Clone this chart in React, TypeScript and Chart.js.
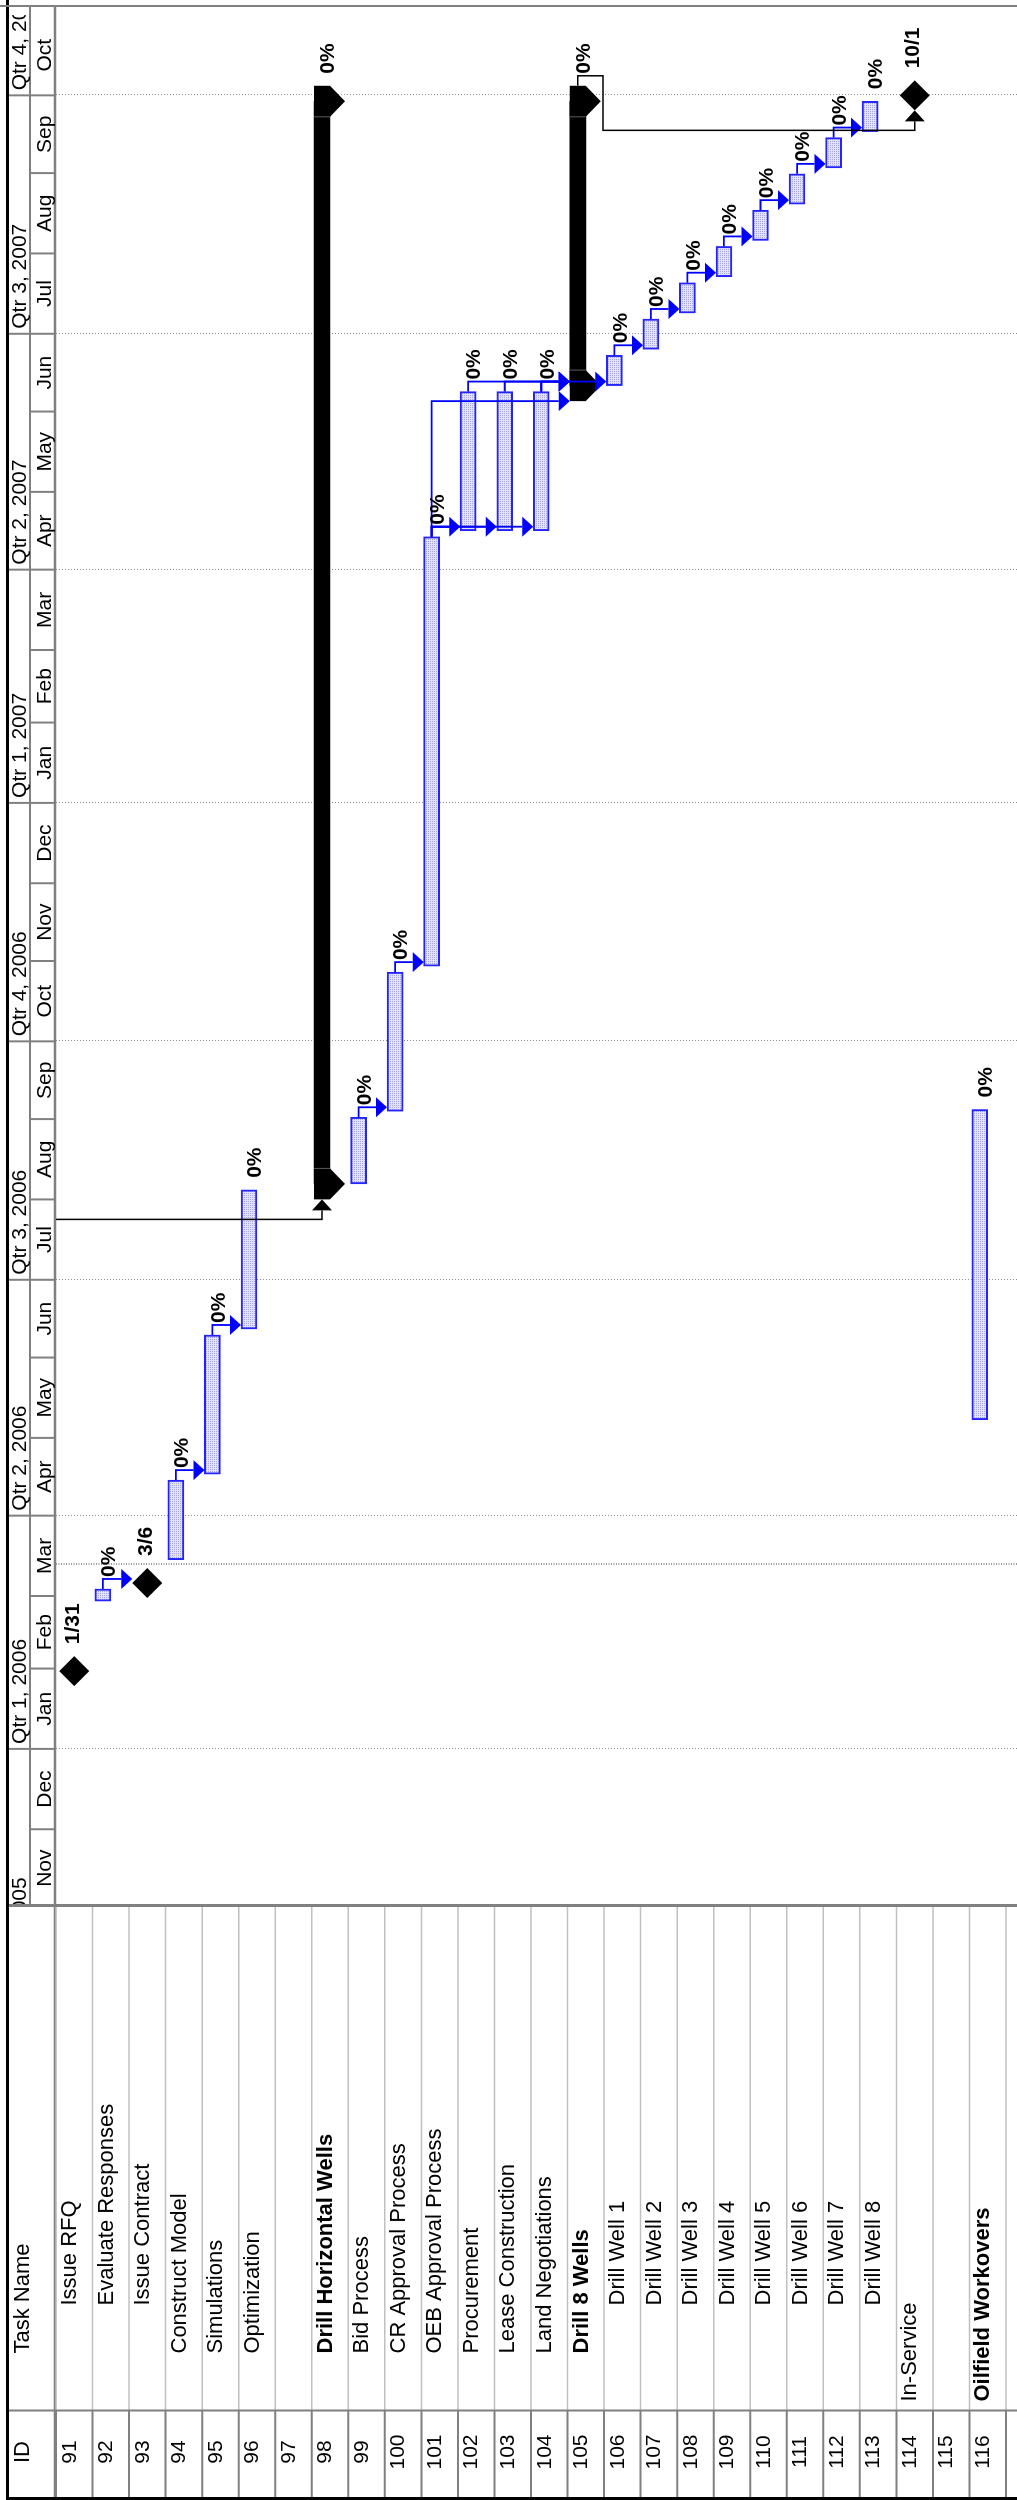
import React, { useEffect, useRef } from 'react';
import { Chart, registerables } from 'chart.js';

Chart.register(...registerables);

// ---------- schedule ----------
const taskIds = ['91', '92', '93', '94', '95', '96', '97', '98', '99', '100', '101', '102', '103', '104', '105', '106', '107', '108', '109', '110', '111', '112', '113', '114', '115', '116'];
const taskNames = ['Issue RFQ', 'Evaluate Responses', 'Issue Contract', 'Construct Model', 'Simulations', 'Optimization', '', 'Drill Horizontal Wells', 'Bid Process', 'CR Approval Process', 'OEB Approval Process', 'Procurement', 'Lease Construction', 'Land Negotiations', 'Drill 8 Wells', 'Drill Well 1', 'Drill Well 2', 'Drill Well 3', 'Drill Well 4', 'Drill Well 5', 'Drill Well 6', 'Drill Well 7', 'Drill Well 8', 'In-Service', '', 'Oilfield Workovers'];
const outlineLevels = [3, 3, 3, 2, 2, 2, 2, 2, 2, 2, 2, 2, 2, 2, 2, 3, 3, 3, 3, 3, 3, 3, 3, 1, 1, 1];
const boldRows = ['98', '105', '116'];
const taskKinds = ['milestone', 'task', 'milestone', 'task', 'task', 'task', 'blank', 'summary', 'task', 'task', 'task', 'task', 'task', 'task', 'summary', 'task', 'task', 'task', 'task', 'task', 'task', 'task', 'task', 'milestone', 'blank', 'task'];
const startDates = ['2006-01-31', '2006-02-27', '2006-03-06', '2006-03-15', '2006-04-17', '2006-06-12', null, '2006-08-07', '2006-08-07', '2006-09-04', '2006-10-30', '2007-04-16', '2007-04-16', '2007-04-16', '2007-06-11', '2007-06-11', '2007-06-25', '2007-07-09', '2007-07-23', '2007-08-06', '2007-08-20', '2007-09-03', '2007-09-17', '2007-10-01', null, '2006-05-08'];
const finishDates = ['2006-01-31', '2006-03-03', '2006-03-06', '2006-04-14', '2006-06-09', '2006-08-04', null, '2007-09-28', '2006-09-01', '2006-10-27', '2007-04-13', '2007-06-08', '2007-06-08', '2007-06-08', '2007-09-28', '2007-06-22', '2007-07-06', '2007-07-20', '2007-08-03', '2007-08-17', '2007-08-31', '2007-09-14', '2007-09-28', '2007-10-01', null, '2006-09-04'];
const percentComplete = [null, 0, null, 0, 0, 0, null, 0, 0, 0, 0, 0, 0, 0, 0, 0, 0, 0, 0, 0, 0, 0, 0, null, null, 0];

// finish-to-start dependencies ('90' sits above the visible rows)
const linkPredecessors = ['90', '92', '94', '95', '99', '100', '101', '101', '101', '101', '102', '103', '104', '104', '106', '107', '108', '109', '110', '111', '112', '105'];
const linkSuccessors = ['98', '93', '95', '96', '100', '101', '102', '103', '104', '105', '105', '105', '105', '106', '107', '108', '109', '110', '111', '112', '113', '114'];

// ---------- timescale ----------
const VIEW_START = '2005-11-01';
const VIEW_END = '2007-11-01';
const STATUS_DATE = '2006-03-13T08:00';
const quarterStarts = ['2005-10-01', '2006-01-01', '2006-04-01', '2006-07-01', '2006-10-01', '2007-01-01', '2007-04-01', '2007-07-01', '2007-10-01'];
const quarterLabels = ['Qtr 4, 2005', 'Qtr 1, 2006', 'Qtr 2, 2006', 'Qtr 3, 2006', 'Qtr 4, 2006', 'Qtr 1, 2007', 'Qtr 2, 2007', 'Qtr 3, 2007', 'Qtr 4, 2007'];
const monthStarts = ['2005-11-01', '2005-12-01', '2006-01-01', '2006-02-01', '2006-03-01', '2006-04-01', '2006-05-01', '2006-06-01', '2006-07-01', '2006-08-01', '2006-09-01', '2006-10-01', '2006-11-01', '2006-12-01', '2007-01-01', '2007-02-01', '2007-03-01', '2007-04-01', '2007-05-01', '2007-06-01', '2007-07-01', '2007-08-01', '2007-09-01', '2007-10-01'];
const monthLabels = ['Nov', 'Dec', 'Jan', 'Feb', 'Mar', 'Apr', 'May', 'Jun', 'Jul', 'Aug', 'Sep', 'Oct', 'Nov', 'Dec', 'Jan', 'Feb', 'Mar', 'Apr', 'May', 'Jun', 'Jul', 'Aug', 'Sep', 'Oct'];

// ---------- sheet layout (drawn landscape, page turned a quarter) ----------
const CANVAS_W = 2500;
const CANVAS_H = 1021;
const PAGE_W = 1017;
const TABLE_W = 593;
const ID_W = 89.5;
const HEADER_H = 56;
const RIGHT_EDGE = 2494;
const FRAME_TOP = 9;
const TIER_Y = 30;
const HEADER_LINE = 55;
const FONT = '"Liberation Sans", Arial, Helvetica, sans-serif';
const GRID = '#808080';
const LIGHT_GRID = '#c0c0c0';
const BLUE = '#0000ff';
const BAR_EDGE = '#2424ff';
const FINISH_HOUR = 17;
const MILESTONE_R = 15;
const CAP_HALF = 15.5;
const CAP_DROP = 15;
const ARROW_LEN = 11;
const ARROW_HALF = 10;
const INDENT = 48;

const EPOCH = Date.UTC(2006, 0, 1);
function dayOf(s: string, hour = 0): number {
  const [datePart, timePart] = s.split('T');
  const [y, m, d] = datePart.split('-').map(Number);
  let h = hour;
  if (timePart) {
    const [hh, mm] = timePart.split(':').map(Number);
    h = hh + mm / 60;
  }
  return (Date.UTC(y, m - 1, d) - EPOCH) / 86400000 + h / 24;
}
function shortDate(s: string): string {
  const [, m, d] = s.split('-').map(Number);
  return `${m}/${d}`;
}

function makeHatch(): CanvasPattern | string {
  const c = document.createElement('canvas');
  c.width = 2;
  c.height = 2;
  const g = c.getContext('2d');
  if (!g) return '#d4d4f6';
  g.fillStyle = '#e2e2ff';
  g.fillRect(0, 0, 2, 2);
  g.fillStyle = '#a6a6da';
  g.fillRect(0, 0, 1, 1);
  return g.createPattern(c, 'repeat') || '#d4d4f6';
}

function seg(ctx: CanvasRenderingContext2D, pts: number[][]) {
  ctx.beginPath();
  ctx.moveTo(pts[0][0], pts[0][1]);
  for (let i = 1; i < pts.length; i++) ctx.lineTo(pts[i][0], pts[i][1]);
  ctx.stroke();
}

function drawSheet(chart: any) {
  const ctx: CanvasRenderingContext2D = chart.ctx;
  const xs = chart.scales.x;
  const ys = chart.scales.y;
  const ca = chart.chartArea;
  const H = chart.height;
  const n = taskIds.length;
  const rowH = (ca.bottom - ca.top) / n;
  ctx.save();

  // quarter gridlines across the plot
  ctx.strokeStyle = '#8c8c8c';
  ctx.lineWidth = 1;
  ctx.setLineDash([1, 2]);
  for (const q of quarterStarts) {
    const u = Math.round(xs.getPixelForValue(dayOf(q))) + 0.5;
    if (u <= ca.left + 1 || u >= RIGHT_EDGE) continue;
    seg(ctx, [[u, ca.top], [u, H]]);
  }
  // status date line
  ctx.setLineDash([1, 1.5]);
  ctx.lineWidth = 2;
  ctx.strokeStyle = '#9a9a9a';
  const us = Math.round(xs.getPixelForValue(dayOf(STATUS_DATE)));
  seg(ctx, [[us, ca.top], [us, H]]);
  ctx.setLineDash([]);

  // timescale tiers
  ctx.strokeStyle = GRID;
  ctx.lineWidth = 2;
  seg(ctx, [[ca.left, TIER_Y], [RIGHT_EDGE, TIER_Y]]);
  for (const q of quarterStarts) {
    const u = xs.getPixelForValue(dayOf(q));
    if (u <= ca.left || u >= RIGHT_EDGE) continue;
    seg(ctx, [[u, FRAME_TOP], [u, TIER_Y]]);
  }
  for (const m of monthStarts) {
    const u = xs.getPixelForValue(dayOf(m));
    if (u <= ca.left || u >= RIGHT_EDGE) continue;
    seg(ctx, [[u, TIER_Y], [u, HEADER_LINE]]);
  }
  ctx.lineWidth = 2.5;
  seg(ctx, [[0, HEADER_LINE], [RIGHT_EDGE, HEADER_LINE]]);

  ctx.fillStyle = '#000';
  ctx.font = `21px ${FONT}`;
  ctx.textBaseline = 'alphabetic';
  // quarter tier text, clipped to the visible cells
  ctx.save();
  ctx.beginPath();
  ctx.rect(ca.left + 2, FRAME_TOP, RIGHT_EDGE - 9 - ca.left - 2, TIER_Y - FRAME_TOP);
  ctx.clip();
  ctx.textAlign = 'left';
  quarterStarts.forEach((q, i) => {
    const u = xs.getPixelForValue(dayOf(q));
    ctx.fillText(quarterLabels[i], u + 5, 25.5);
  });
  ctx.restore();
  // month tier text
  ctx.save();
  ctx.beginPath();
  ctx.rect(ca.left + 2, TIER_Y, RIGHT_EDGE - 4 - ca.left - 2, HEADER_LINE - TIER_Y);
  ctx.clip();
  ctx.textAlign = 'center';
  monthStarts.forEach((m, i) => {
    const u0 = xs.getPixelForValue(dayOf(m));
    const u1 = xs.getPixelForValue(dayOf(i + 1 < monthStarts.length ? monthStarts[i + 1] : VIEW_END));
    ctx.fillText(monthLabels[i], (u0 + u1) / 2, 50.5);
  });
  ctx.restore();

  // task table rows
  for (let k = 0; k <= n; k++) {
    const v = ca.top + k * rowH;
    ctx.strokeStyle = LIGHT_GRID;
    ctx.lineWidth = 1.5;
    seg(ctx, [[ID_W, v], [TABLE_W, v]]);
    ctx.strokeStyle = GRID;
    ctx.lineWidth = 2;
    seg(ctx, [[0, v], [ID_W, v]]);
  }
  ctx.strokeStyle = GRID;
  ctx.lineWidth = 2;
  seg(ctx, [[ID_W, FRAME_TOP], [ID_W, H]]);
  ctx.lineWidth = 3;
  seg(ctx, [[TABLE_W + 1.5, FRAME_TOP], [TABLE_W + 1.5, H]]);

  ctx.fillStyle = '#000';
  ctx.textBaseline = 'alphabetic';
  ctx.font = `22px ${FONT}`;
  ctx.textAlign = 'center';
  ctx.fillText('ID', 48, 28.5);
  ctx.textAlign = 'left';
  ctx.fillText('Task Name', ID_W + 9 + INDENT, 28.5);
  taskIds.forEach((id, i) => {
    const top = ys.getPixelForValue(i) - rowH / 2;
    ctx.font = `21px ${FONT}`;
    ctx.textAlign = 'center';
    ctx.fillText(id, 48, top + 19.5);
    if (taskNames[i]) {
      ctx.textAlign = 'left';
      ctx.font = `${boldRows.includes(id) ? 'bold ' : ''}22px ${FONT}`;
      ctx.fillText(taskNames[i], ID_W + 9 + (outlineLevels[i] - 1) * INDENT, top + 20);
    }
  });

  // page frame
  ctx.strokeStyle = '#000';
  ctx.lineWidth = 3;
  seg(ctx, [[0, FRAME_TOP - 1.5], [CANVAS_W, FRAME_TOP - 1.5]]);
  seg(ctx, [[1.5, FRAME_TOP - 3], [1.5, H]]);
  ctx.strokeStyle = GRID;
  ctx.lineWidth = 2;
  seg(ctx, [[RIGHT_EDGE, 0], [RIGHT_EDGE, H]]);
  ctx.restore();
}

function drawOverlays(chart: any) {
  const ctx: CanvasRenderingContext2D = chart.ctx;
  const xs = chart.scales.x;
  const ys = chart.scales.y;
  const ca = chart.chartArea;
  const rowH = (ca.bottom - ca.top) / taskIds.length;
  const bars = chart.getDatasetMeta(0).data;

  const geo = taskIds.map((id, i) => {
    const kind = taskKinds[i];
    const top = ys.getPixelForValue(i) - rowH / 2;
    if (kind === 'blank') return null;
    if (kind === 'milestone') {
      const u = xs.getPixelForValue(dayOf(startDates[i] as string));
      const v = ys.getPixelForValue(i);
      return { kind, top, bottom: top + rowH, uStart: u - MILESTONE_R, uEnd: u + MILESTONE_R, vTop: v - MILESTONE_R, vMid: v, uMid: u, barStart: u, barEnd: u, barBottom: v };
    }
    const p = bars[i].getProps(['x', 'y', 'base', 'height'], true);
    const s = Math.min(p.x, p.base);
    const e = Math.max(p.x, p.base);
    const cap = kind === 'summary' ? CAP_HALF : 0;
    return { kind, top, bottom: top + rowH, uStart: s - cap, uEnd: e + cap, vTop: p.y - p.height / 2, vMid: p.y, uMid: (s + e) / 2, barStart: s, barEnd: e, barBottom: p.y + p.height / 2 };
  });

  ctx.save();
  // summary end shapes
  geo.forEach((g) => {
    if (!g || g.kind !== 'summary') return;
    [g.barStart, g.barEnd].forEach((uc, k) => {
      ctx.fillStyle = '#000';
      ctx.beginPath();
      ctx.moveTo(uc - CAP_HALF, g.vTop);
      ctx.lineTo(uc + CAP_HALF, g.vTop);
      ctx.lineTo(uc + CAP_HALF, g.barBottom);
      ctx.lineTo(uc, g.barBottom + CAP_DROP);
      ctx.lineTo(uc - CAP_HALF, g.barBottom);
      ctx.closePath();
      ctx.fill();
      ctx.strokeStyle = '#5c5c5c';
      ctx.lineWidth = 1;
      const inner = k === 0 ? uc + CAP_HALF : uc - CAP_HALF;
      seg(ctx, [[inner, g.vTop], [inner, g.barBottom]]);
    });
  });

  // dependency links
  const arrowDown = (u: number, vTip: number) => {
    ctx.beginPath();
    ctx.moveTo(u - ARROW_HALF, vTip - ARROW_LEN);
    ctx.lineTo(u + ARROW_HALF, vTip - ARROW_LEN);
    ctx.lineTo(u, vTip);
    ctx.closePath();
    ctx.fill();
  };
  const arrowRight = (uTip: number, v: number) => {
    ctx.beginPath();
    ctx.moveTo(uTip - ARROW_LEN, v - ARROW_HALF);
    ctx.lineTo(uTip - ARROW_LEN, v + ARROW_HALF);
    ctx.lineTo(uTip, v);
    ctx.closePath();
    ctx.fill();
  };
  linkPredecessors.forEach((pid, li) => {
    const pi = taskIds.indexOf(pid);
    const si = taskIds.indexOf(linkSuccessors[li]);
    const to = geo[si];
    if (!to) return;
    const from = pi >= 0 ? geo[pi] : null;
    const color = from && from.kind === 'task' ? BLUE : '#000';
    ctx.strokeStyle = color;
    ctx.fillStyle = color;
    ctx.lineWidth = color === BLUE ? 1.8 : 1.5;
    if (!from) {
      const back = to.uStart - 20;
      seg(ctx, [[back, ca.top], [back, to.vMid], [to.uStart - ARROW_LEN, to.vMid]]);
      arrowRight(to.uStart, to.vMid);
      return;
    }
    const turn = Math.max(from.uEnd + 10, to.uStart);
    if (turn <= to.uEnd) {
      seg(ctx, [[from.uEnd, from.vMid], [turn, from.vMid], [turn, to.vTop - ARROW_LEN]]);
      arrowDown(turn, to.vTop);
    } else {
      const back = to.uStart - 20;
      const vMid = from.bottom - 1;
      seg(ctx, [[from.uEnd, from.vMid], [from.uEnd + 10, from.vMid], [from.uEnd + 10, vMid], [back, vMid], [back, to.vMid], [to.uStart - ARROW_LEN, to.vMid]]);
      arrowRight(to.uStart, to.vMid);
    }
  });

  // progress and date labels
  ctx.fillStyle = '#000';
  ctx.font = `bold 21px ${FONT}`;
  ctx.textAlign = 'left';
  ctx.textBaseline = 'alphabetic';
  geo.forEach((g, i) => {
    if (!g) return;
    if (g.kind === 'milestone') {
      ctx.fillText(shortDate(startDates[i] as string), g.uMid + 27, g.top + 23);
    } else if (percentComplete[i] !== null) {
      ctx.fillText(`${percentComplete[i]}%`, g.uEnd + 12, g.top + 22.5);
    }
  });
  ctx.restore();
}

const ganttSheet = {
  id: 'ganttSheet',
  beforeDraw(chart: any) {
    const ctx = chart.ctx;
    ctx.save();
    ctx.fillStyle = '#fff';
    ctx.fillRect(0, 0, chart.width, chart.height);
    ctx.restore();
  },
  beforeDatasetsDraw(chart: any) {
    drawSheet(chart);
  },
  afterDatasetsDraw(chart: any) {
    drawOverlays(chart);
  },
};

export default function App() {
  const canvasRef = useRef<HTMLCanvasElement>(null);

  useEffect(() => {
    const canvas = canvasRef.current;
    if (!canvas) return;
    const hatch = makeHatch();

    const scheduleBars = taskIds.map((_, i) =>
      taskKinds[i] === 'task' || taskKinds[i] === 'summary'
        ? [dayOf(startDates[i] as string), dayOf(finishDates[i] as string, FINISH_HOUR)]
        : null
    );
    const milestonePoints = taskIds
      .map((id, i) => (taskKinds[i] === 'milestone' ? { x: dayOf(startDates[i] as string), y: id } : null))
      .filter((p) => p !== null);

    const chart = new Chart(canvas, {
      type: 'bar',
      data: {
        labels: taskIds,
        datasets: [
          {
            type: 'bar',
            label: 'Schedule',
            data: scheduleBars as any,
            backgroundColor: (c: any) => (taskKinds[c.dataIndex] === 'summary' ? '#000' : hatch),
            borderColor: (c: any) => (taskKinds[c.dataIndex] === 'summary' ? '#000' : BAR_EDGE),
            borderWidth: (c: any) => (taskKinds[c.dataIndex] === 'summary' ? 0 : 2),
            borderSkipped: false,
            barThickness: 16,
            order: 2,
          },
          {
            type: 'bar',
            label: 'Baseline',
            data: taskIds.map(() => null) as any,
            barThickness: 16,
            order: 3,
          },
          {
            type: 'scatter',
            label: 'Milestones',
            data: milestonePoints as any,
            pointStyle: 'rectRot',
            pointRadius: 15,
            pointHoverRadius: 15,
            backgroundColor: '#000',
            borderColor: '#000',
            borderWidth: 0,
            order: 1,
          } as any,
        ],
      },
      options: {
        indexAxis: 'y',
        responsive: false,
        animation: false,
        events: [],
        layout: {
          padding: { left: TABLE_W, top: HEADER_H, right: CANVAS_W - RIGHT_EDGE, bottom: CANVAS_H - HEADER_H - 26 * 37.1 },
        },
        scales: {
          x: { type: 'linear', min: dayOf(VIEW_START), max: dayOf(VIEW_END), display: false },
          y: { type: 'category', offset: true, display: false },
        },
        plugins: {
          legend: { display: false },
          tooltip: { enabled: false },
        },
      },
      plugins: [ganttSheet],
    } as any);

    return () => chart.destroy();
  }, []);

  return (
    <div style={{ position: 'absolute', left: 0, top: 0, width: PAGE_W, height: CANVAS_W, overflow: 'hidden', background: '#fff' }}>
      <div
        style={{
          position: 'absolute',
          left: 0,
          top: 0,
          width: CANVAS_W,
          height: CANVAS_H,
          transformOrigin: '0 0',
          transform: `translateY(${CANVAS_W}px) rotate(-90deg)`,
        }}
      >
        <canvas ref={canvasRef} width={CANVAS_W} height={CANVAS_H} style={{ display: 'block', width: CANVAS_W, height: CANVAS_H }} />
      </div>
    </div>
  );
}
